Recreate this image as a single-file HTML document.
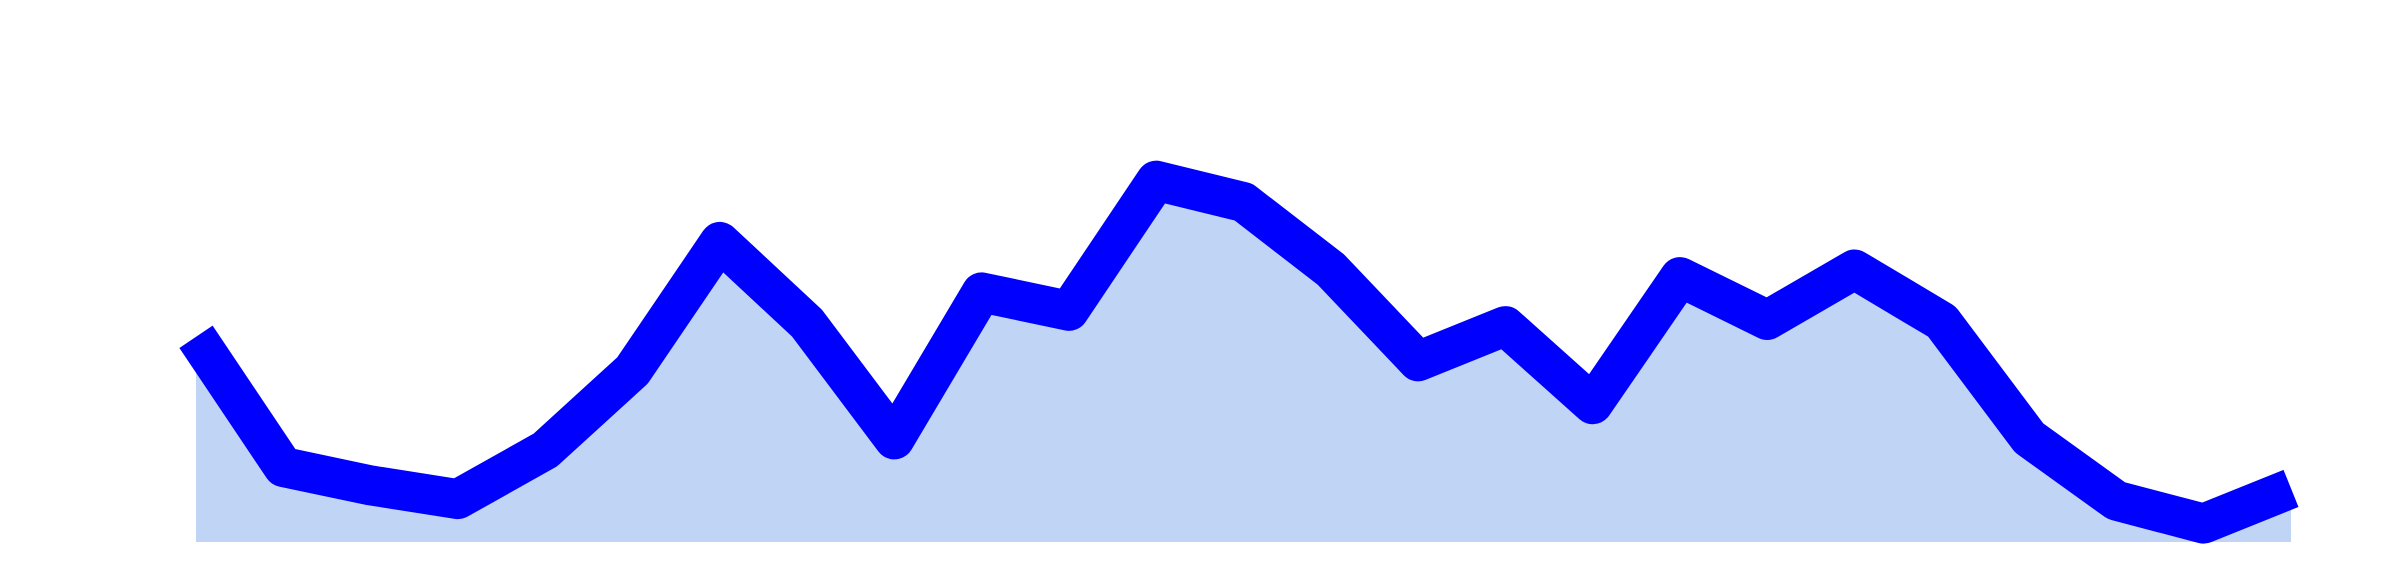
<!DOCTYPE html>
<html><head><meta charset="utf-8"><style>html,body{margin:0;padding:0;background:#fff}svg{display:block}</style></head>
<body>
<svg id="chart" width="2400" height="570" viewBox="0 0 2400 570" xmlns="http://www.w3.org/2000/svg"></svg>
<script>
const categories = Array.from({length:25},(_, i)=>i);
const values = [134,49,37,28,60,112,196,143,67,163,151,236,222,178,118,141,90,173,145,178,144,68,27,12,35];
const x0=196, x1=2291, base=542, k=1.531;
function xScale(i){return x0+(x1-x0)*i/(categories.length-1);}
function yScale(v){return base-v*k;}
const svg=document.getElementById('chart');
const ns='http://www.w3.org/2000/svg';
let pts=values.map((v,i)=>xScale(i).toFixed(1)+','+yScale(v).toFixed(1));
const area=document.createElementNS(ns,'polygon');
area.setAttribute('points',xScale(0)+','+base+' '+pts.join(' ')+' '+xScale(values.length-1)+','+base);
area.setAttribute('fill','#c0d5f5');


svg.appendChild(area);
const line=document.createElementNS(ns,'polyline');
line.setAttribute('points',pts.join(' '));
line.setAttribute('fill','none');
line.setAttribute('stroke','#0000ff');
line.setAttribute('stroke-width','40');
line.setAttribute('stroke-linejoin','round');
line.setAttribute('stroke-linecap','butt');


svg.appendChild(line);
</script>
</body></html>
